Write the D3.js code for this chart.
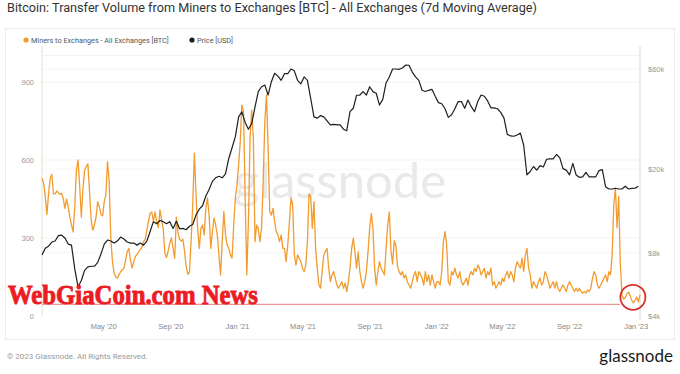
<!DOCTYPE html>
<html><head><meta charset="utf-8">
<script src="https://cdn.jsdelivr.net/npm/d3@7"></script>
<style>
body{margin:0;background:#fff;}
svg{display:block;font-family:Roboto,"Noto Sans",sans-serif;}
</style>
</head><body>
<svg id="chart" width="680" height="374"></svg>
<script>
// ---------------- DATA ----------------
const titleText = "Bitcoin: Transfer Volume from Miners to Exchanges [BTC] - All Exchanges (7d Moving Average)";
const seriesNames = ["Miners to Exchanges - All Exchanges [BTC]", "Price [USD]"];
const startDate = "2020-01-10";
const endDate = "2023-01-09";
const volumeStepDays = 3;
// Miners -> exchanges volume, BTC (7d MA), one reading every 3 days
const volume = [
530,510,460,390,470,530,545,470,470,480,475,468,472,450,414,450,420,380,350,324,
420,560,600,500,380,490,560,575,585,480,370,330,350,380,440,420,390,385,440,467,
594,517,300,210,165,150,146,158,170,177,184,215,247,260,215,184,210,228,237,247,
255,265,286,295,330,365,395,400,365,400,360,340,408,370,335,240,225,250,280,300,
260,222,380,320,295,288,295,250,190,160,170,286,427,626,467,337,260,337,350,312,
414,454,388,260,324,377,350,312,235,158,286,402,312,273,260,235,222,350,454,504,
580,670,811,786,454,158,363,683,792,683,286,350,337,286,337,517,747,850,650,402,
388,414,363,324,312,286,312,260,260,209,273,363,454,427,235,196,235,222,209,184,
171,196,286,470,460,337,440,260,184,119,107,171,235,250,260,184,132,158,171,146,
119,107,119,132,107,126,94,132,184,260,299,247,184,247,171,132,107,132,171,247,
337,395,337,184,119,171,209,184,171,158,260,350,400,250,200,290,270,190,171,158,
171,146,158,132,119,107,132,158,171,132,171,160,146,119,171,132,158,119,158,132,
107,132,132,119,171,286,324,273,132,119,171,158,184,158,146,171,132,119,132,146,
119,158,171,158,184,171,196,184,158,171,184,146,171,158,184,119,132,107,119,132,
119,146,132,158,171,146,171,158,132,184,209,195,184,222,171,235,260,184,158,107,
132,119,107,132,146,119,132,171,158,132,107,119,132,107,132,107,94,107,119,107,
94,119,132,119,107,94,107,94,107,94,88,94,88,100,94,107,146,171,158,119,
107,119,132,146,158,132,171,158,235,430,491,340,460,200,80,65,70,85,92,78,
60,50,60,73,54,81
];
const priceStepDays = 6;
// BTC price, USD, one reading every 6 days
const price = [
7800,8400,8600,9000,9100,9650,9700,9400,8800,8700,6700,5500,5900,6600,6850,6900,6900,7200,7900,8800,
9200,9100,8900,9100,9500,9300,9000,8900,8900,8700,8900,8700,9100,10100,11250,11000,11400,11250,11000,11250,
10450,11300,10400,10450,10300,10700,10900,12100,12900,13400,14900,16000,17500,18200,18500,18200,19000,22500,25300,28500,
35500,37500,33400,31000,33000,39500,46800,49400,50300,45100,52200,57300,55500,53000,57000,57000,60000,58800,53000,51000,
55000,53000,43500,35500,35000,36000,35500,34000,32500,32700,32500,32500,31000,30500,37600,39000,45000,45100,46800,45100,
49400,46800,46000,40400,43000,51500,55000,60000,60000,59800,60700,62700,62500,58000,55000,53000,47500,46900,47500,48000,
44500,41500,41000,38800,35300,36300,38800,42000,42000,39000,42700,39700,37600,42000,45100,44500,42300,39200,39200,38800,
37300,35000,29300,28800,28700,29100,29700,26000,18780,19500,20600,19800,20800,20500,22300,22400,22400,23500,22700,20130,
19800,18780,21300,18780,18300,18400,19300,18400,18400,18400,19700,19900,16500,16100,16100,16230,16100,16100,16600,16100,
16200,16230,16600
];
const leftTicks = [0, 300, 600, 900];
const rightTicks = [4000, 8000, 20000, 60000];
const rightTickLabels = ["$4k", "$8k", "$20k", "$60k"];
const xTickDates = ["2020-05-01","2020-09-01","2021-01-01","2021-05-01","2021-09-01","2022-01-01","2022-05-01","2022-09-01","2023-01-01"];
const xTickLabels = ["May '20","Sep '20","Jan '21","May '21","Sep '21","Jan '22","May '22","Sep '22","Jan '23"];
const floorLevel = 45;                 // annotated red floor line (BTC)
const circleDate = "2022-12-27";       // annotated red circle
const circleValue = 72;

// ---------------- CHART ----------------
const svg = d3.select("#chart");
const ORANGE = "#f29b2e", BLACK = "#1e1e1e";
const parse = d3.utcParse("%Y-%m-%d");
const t0 = parse(startDate);

const x = d3.scaleUtc().domain([t0, parse(endDate)]).range([42, 640]);
const yL = d3.scaleLinear().domain([0, 900]).range([316, 82]);
const yR = d3.scaleLog().domain([4000, 60000]).range([316, 69]);

const volData = volume.map((v, i) => ({d: d3.utcDay.offset(t0, i * volumeStepDays), v}));
const priceData = price.map((v, i) => ({d: d3.utcDay.offset(t0, i * priceStepDays), v}));

// card frame
svg.append("rect").attr("x", 5.5).attr("y", 28.5).attr("width", 669).attr("height", 311)
  .attr("fill", "none").attr("stroke", "#ececec");

// title
svg.append("text").attr("x", 7).attr("y", 12).attr("font-size", 12.5).attr("fill", "#333")
  .attr("textLength", 530).attr("lengthAdjust", "spacingAndGlyphs").text(titleText);

// legend
const lg = svg.append("g").attr("font-size", 7.3).attr("fill", "#555");
lg.append("circle").attr("cx", 26).attr("cy", 40).attr("r", 2.6).attr("fill", ORANGE);
lg.append("text").attr("x", 31).attr("y", 42.6).text(seriesNames[0]);
lg.append("circle").attr("cx", 192).attr("cy", 40).attr("r", 2.6).attr("fill", BLACK);
lg.append("text").attr("x", 197).attr("y", 42.6).text(seriesNames[1]);

// gridlines
const grid = svg.append("g");
leftTicks.filter(d => d > 0).forEach(t => grid.append("line")
  .attr("x1", 42).attr("x2", 640).attr("y1", yL(t)).attr("y2", yL(t)).attr("stroke", "#f3f3f3"));
rightTicks.filter(d => d > 4000).forEach(t => grid.append("line")
  .attr("x1", 42).attr("x2", 640).attr("y1", yR(t)).attr("y2", yR(t)).attr("stroke", "#f6f6f6"));
grid.append("line").attr("x1", 42).attr("x2", 640).attr("y1", 55.5).attr("y2", 55.5).attr("stroke", "#f3f3f3");

// watermark
svg.append("text").attr("x", 340).attr("y", 198).attr("text-anchor", "middle")
  .attr("font-family", "Lato, 'Open Sans', sans-serif").attr("font-size", 49)
  .attr("fill", "#e9e9e9").text("glassnode");

// axes
const axL = svg.append("g").attr("transform", "translate(42,0)")
  .call(d3.axisLeft(yL).tickValues(leftTicks).tickSize(0).tickPadding(8).tickFormat(d3.format("d")));
axL.select(".domain").attr("stroke", "#eadfca").attr("d", "M0,46V316");
axL.selectAll("text").attr("fill", "#999").attr("font-size", 7.5);

const axR = svg.append("g").attr("transform", "translate(640,0)")
  .call(d3.axisRight(yR).tickValues(rightTicks).tickSize(0).tickPadding(8)
    .tickFormat((d, i) => rightTickLabels[i]));
axR.select(".domain").attr("stroke", "#d6d6d6").attr("d", "M0,46V320");
axR.selectAll("text").attr("fill", "#999").attr("font-size", 7.5);

const axX = svg.append("g").attr("transform", "translate(0,316)")
  .call(d3.axisBottom(x).tickValues(xTickDates.map(parse)).tickSize(0).tickPadding(8)
    .tickFormat((d, i) => xTickLabels[i]));
axX.select(".domain").remove();
axX.selectAll("text").attr("fill", "#888").attr("font-size", 7.5);

// series
svg.append("path").datum(volData).attr("fill", "none").attr("stroke", ORANGE)
  .attr("stroke-width", 1.3).attr("stroke-linejoin", "round")
  .attr("d", d3.line().x(d => x(d.d)).y(d => yL(d.v)));
svg.append("path").datum(priceData).attr("fill", "none").attr("stroke", BLACK)
  .attr("stroke-width", 1.2).attr("stroke-linejoin", "round")
  .attr("d", d3.line().x(d => x(d.d)).y(d => yR(d.v)));

// annotations
const cx = x(parse(circleDate)), cy = yL(circleValue);
svg.append("line").attr("x1", 42).attr("x2", cx - 13).attr("y1", yL(floorLevel)).attr("y2", yL(floorLevel))
  .attr("stroke", "#e47a7a").attr("stroke-width", 1);
svg.append("circle").attr("cx", cx).attr("cy", cy).attr("r", 12.5)
  .attr("fill", "none").attr("stroke", "#d9302a").attr("stroke-width", 1.8);

svg.append("text").attr("x", 8).attr("y", 304).attr("font-family", "'Liberation Serif','DejaVu Serif',serif")
  .attr("font-weight", "bold").attr("font-size", 27).attr("fill", "#ec1c24")
  .attr("stroke", "#ec1c24").attr("stroke-width", 0.9).attr("paint-order", "stroke")
  .attr("textLength", 250).attr("lengthAdjust", "spacingAndGlyphs").text("WebGiaCoin.com News");

// footer
svg.append("text").attr("x", 7).attr("y", 359).attr("font-size", 8).attr("fill", "#999")
  .text("© 2023 Glassnode. All Rights Reserved.");
svg.append("text").attr("x", 673).attr("y", 362).attr("text-anchor", "end")
  .attr("font-family", "Lato, 'Open Sans', sans-serif").attr("font-size", 17).attr("fill", "#1a1a1a")
  .text("glassnode");
</script>
</body></html>
